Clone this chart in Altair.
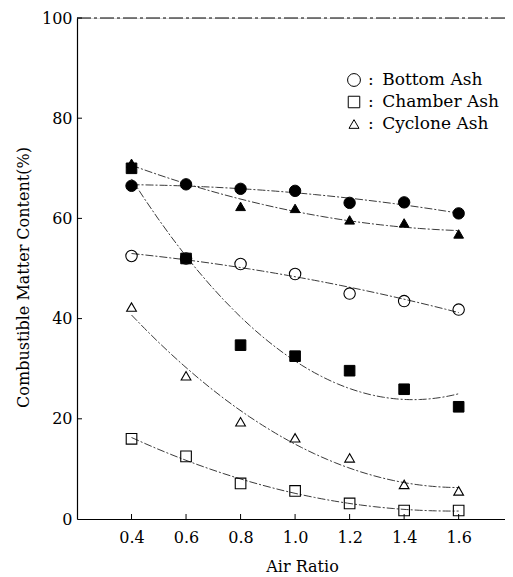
import altair as alt
import pandas as pd

# ---- data ----
air_ratio = [0.4, 0.6, 0.8, 1.0, 1.2, 1.4, 1.6]

bottom_open = [52.5, 52.0, 50.9, 48.9, 45.0, 43.5, 41.8]
chamber_open = [16.0, 12.5, 7.1, 5.6, 3.1, 1.7, 1.7]
cyclone_open = [42.3, 28.6, 19.4, 16.2, 12.2, 6.9, 5.6]

bottom_filled = [66.5, 66.8, 65.9, 65.5, 63.1, 63.2, 61.0]
chamber_filled = [70.0, 52.0, 34.7, 32.5, 29.6, 25.9, 22.4]
cyclone_filled = [71.0, 67.0, 62.4, 62.0, 59.7, 59.1, 56.9]

ash_types = ["Bottom Ash", "Chamber Ash", "Cyclone Ash"]
marker_shapes = ["circle", "square", "triangle-up"]
marker_sizes = [130, 95, 105]
legend_sizes = [165, 100, 110]
x_ticks = [0.4, 0.6, 0.8, 1.0, 1.2, 1.4, 1.6]
y_ticks = [0, 20, 40, 60, 80, 100]

series_list = [
    ("Bottom Ash", "open", bottom_open),
    ("Chamber Ash", "open", chamber_open),
    ("Cyclone Ash", "open", cyclone_open),
    ("Bottom Ash", "filled", bottom_filled),
    ("Chamber Ash", "filled", chamber_filled),
    ("Cyclone Ash", "filled", cyclone_filled),
]
rows = []
for ash, fill, vals in series_list:
    for xv, yv in zip(air_ratio, vals):
        rows.append({"x": xv, "y": yv, "ash": ash, "fill": fill, "series": ash + " " + fill})
df = pd.DataFrame(rows)

legend_df = pd.DataFrame({"ash": ash_types, "label": [":\u2002" + a for a in ash_types]})

FONT = "DejaVu Serif"
W, H = 428, 501

xscale = alt.Scale(domain=[0.2, 1.77], nice=False, zero=False)
yscale = alt.Scale(domain=[0, 100], nice=False, zero=False)
shape_scale = alt.Scale(domain=ash_types, range=marker_shapes)

x_axis = alt.Axis(
    values=x_ticks, format=".1f", grid=False, ticks=False, tickSize=0,
    labelPadding=10, labelFont=FONT, labelFontSize=16, labelColor="black",
    domainColor="black", domainWidth=1.2,
    title="Air Ratio", titleFont=FONT, titleFontSize=16, titleFontWeight="normal",
    titleColor="black", titleX=225, titleY=47, titleAlign="center", titleBaseline="middle",
)
y_axis = alt.Axis(
    values=y_ticks, grid=False, ticks=False, tickSize=0,
    labelPadding=5, labelFont=FONT, labelFontSize=16, labelColor="black",
    labelBaseline="middle", labelFlush=False,
    domainColor="black", domainWidth=1.2,
    title="Combustible Matter Content(%)", titleFont=FONT, titleFontSize=16,
    titleFontWeight="normal", titleColor="black", titleX=-54, titleY=259,
    titleAlign="center", titleBaseline="middle", titleAngle=-90,
)

base = alt.Chart(df)

curves = base.transform_regression(
    "x", "y", groupby=["series"], method="poly", order=2, extent=[0.4, 1.6]
).mark_line(color="#3a3a3a", strokeWidth=1, strokeDash=[8, 2, 2, 2]).encode(
    x=alt.X("x:Q", scale=xscale, axis=x_axis),
    y=alt.Y("y:Q", scale=yscale, axis=y_axis),
    detail="series:N",
)

size_enc = alt.Size("ash:N", scale=alt.Scale(domain=ash_types, range=marker_sizes), legend=None)

open_points = base.transform_filter(alt.datum.fill == "open").mark_point(
    filled=False, stroke="black", strokeWidth=1.1, opacity=1, fillOpacity=0
).encode(
    x=alt.X("x:Q", scale=xscale),
    y=alt.Y("y:Q", scale=yscale, axis=None),
    shape=alt.Shape("ash:N", scale=shape_scale, legend=None),
    size=size_enc,
)

filled_points = base.transform_filter(alt.datum.fill == "filled").mark_point(
    filled=True, fill="black", stroke="black", strokeWidth=1, opacity=1
).encode(
    x=alt.X("x:Q", scale=xscale),
    y=alt.Y("y:Q", scale=yscale, axis=None),
    shape=alt.Shape("ash:N", scale=shape_scale, legend=None),
    size=size_enc,
)

tick_x_df = pd.DataFrame({"t": x_ticks})
tick_y_df = pd.DataFrame({"t": y_ticks[1:]})
xticks = alt.Chart(tick_x_df).mark_rule(color="black", strokeWidth=1).encode(
    x=alt.X("t:Q", scale=xscale), y=alt.value(H), y2=alt.value(H - 5)
)
yticks = alt.Chart(tick_y_df).mark_rule(color="black", strokeWidth=1).encode(
    y=alt.Y("t:Q", scale=yscale, axis=None), x=alt.value(0), x2=alt.value(5)
)
top_line = alt.Chart(pd.DataFrame({"v": [100]})).mark_rule(
    color="black", strokeWidth=1.1, strokeDash=[14, 3, 3, 3]
).encode(y=alt.Y("v:Q", scale=yscale, axis=None), x=alt.value(0), x2=alt.value(W))

# legend drawn as its own small layer (rows placed through a point scale)
legend_y = alt.Y("ash:N", scale=alt.Scale(type="point", domain=ash_types, range=[62, 106], padding=0), axis=None)
legend_symbols = alt.Chart(legend_df).mark_point(
    filled=True, fill="white", fillOpacity=0, stroke="black", strokeWidth=1, opacity=1
).encode(
    x=alt.value(277),
    y=legend_y,
    shape=alt.Shape("ash:N", scale=shape_scale, legend=None),
    size=alt.Size("ash:N", scale=alt.Scale(domain=ash_types, range=legend_sizes), legend=None),
)
legend_text = alt.Chart(legend_df).mark_text(
    align="left", baseline="middle", font=FONT, fontSize=17, color="black"
).encode(x=alt.value(291), y=legend_y, text="label:N")

chart = alt.layer(
    top_line, curves, xticks, yticks, filled_points, open_points, legend_symbols, legend_text
).resolve_scale(y="independent", size="independent").properties(
    width=W, height=H,
    autosize=alt.AutoSizeParams(type="none"),
    padding={"left": 69, "top": 10, "right": 0, "bottom": 56},
).configure_view(stroke=None).configure(background="white")

chart.save("out.html", embed_options={"renderer": "svg", "actions": False})
